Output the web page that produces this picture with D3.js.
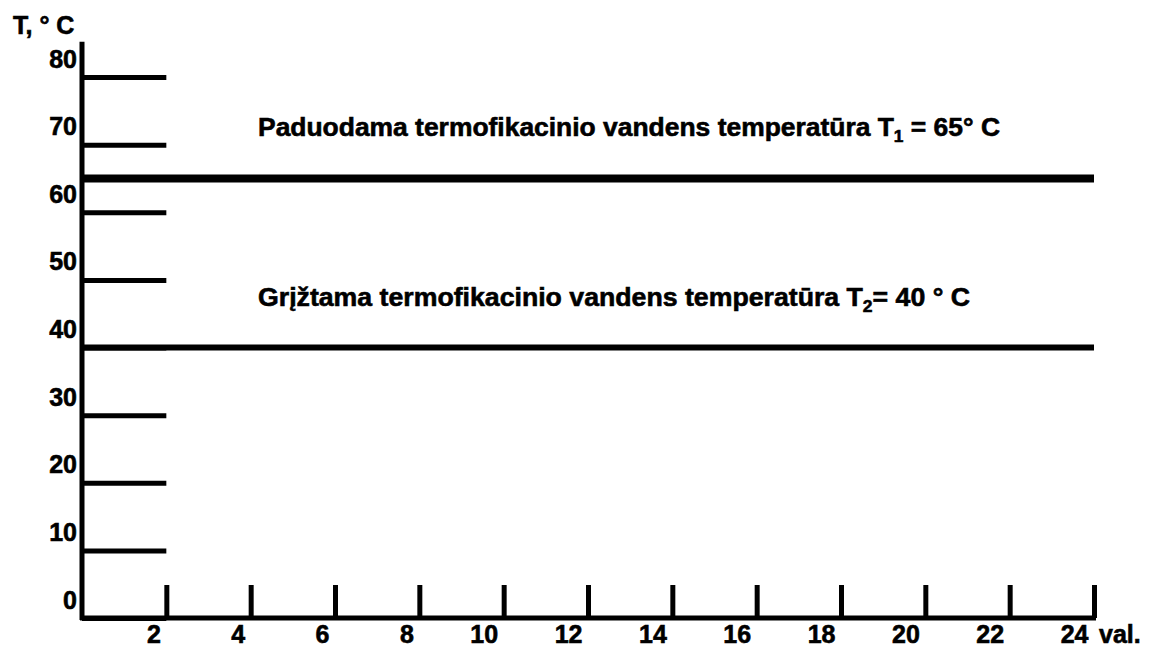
<!DOCTYPE html>
<html>
<head>
<meta charset="utf-8">
<script src="https://cdn.jsdelivr.net/npm/d3@7"></script>
<style>
  body { margin: 0; background: #fff; }
  text { font-family: "Liberation Sans", Arial, sans-serif; font-weight: bold; fill: #000; stroke: #000; stroke-width: 0.6px; }
</style>
</head>
<body>
<svg width="1156" height="649"></svg>
<script>
const width = 1156, height = 649;

// data
const yTicks = [0, 10, 20, 30, 40, 50, 60, 70, 80];
const xTicks = [2, 4, 6, 8, 10, 12, 14, 16, 18, 20, 22, 24];
const hours = [0, 24];
const lineNames = ["T1", "T2"];
const lineValues = [65, 40];
const lineLabels = [
    ["Paduodama termofikacinio vandens temperatūra T", "1", " = 65° C"],
    ["Grįžtama termofikacinio vandens temperatūra T", "2", "= 40 ° C"]
];
const yTitle = "T, ° C";
const xUnit = "val.";

const svg = d3.select("svg");

const x = d3.scaleLinear().domain([0, 24]).range([82, 1094]);
const y = d3.scaleLinear().domain([0, 80]).range([618, 77]);

// T lines
const lineWidths = [8, 6];
svg.append("g")
    .selectAll("line")
    .data(lineValues)
    .join("line")
        .attr("x1", x(hours[0]))
        .attr("x2", x(hours[1]))
        .attr("y1", d => y(d))
        .attr("y2", d => y(d))
        .attr("stroke", "#000")
        .attr("stroke-width", (d, i) => lineWidths[i]);

// labels over the lines
const labels = svg.append("g")
    .selectAll("text")
    .data(lineLabels)
    .join("text")
        .attr("x", 258)
        .attr("y", (d, i) => y(lineValues[i]) - 42)
        .attr("textLength", (d, i) => i == 0 ? 742 : 712)
        .attr("lengthAdjust", "spacingAndGlyphs")
        .style("font-size", "26px");
labels.append("tspan").text(d => d[0]);
labels.append("tspan").attr("dy", 6).style("font-size", "17px").text(d => d[1]);
labels.append("tspan").attr("dy", -6).text(d => d[2]);

// Y axis
const gy = svg.append("g")
    .attr("transform", `translate(${x(0)}, 0)`)
    .call(d3.axisLeft(y).tickValues(yTicks).tickSize(-(x(2) - x(0))).tickPadding(5));
gy.select(".domain").remove();
gy.selectAll(".tick line").attr("stroke", "#000").attr("stroke-width", 5);
gy.selectAll(".tick text")
    .attr("dy", -10)
    .style("font-size", "25px")
    .style("font-family", null);

// X axis
const gx = svg.append("g")
    .attr("transform", `translate(0, ${y(0)})`)
    .call(d3.axisBottom(x).tickValues(xTicks).tickSize(-33).tickPadding(0));
gx.select(".domain").remove();
gx.selectAll(".tick line").attr("stroke", "#000").attr("stroke-width", 5);
gx.selectAll(".tick text")
    .attr("x", -6)
    .attr("y", 25)
    .attr("dy", 0)
    .attr("text-anchor", "end")
    .style("font-size", "25px")
    .style("font-family", null);

// axis lines
svg.append("line")
    .attr("x1", x(0)).attr("x2", x(0))
    .attr("y1", y(0) + 2).attr("y2", y(85.2))
    .attr("stroke", "#000").attr("stroke-width", 5);
svg.append("line")
    .attr("x1", x(0) - 2).attr("x2", x(24) + 2)
    .attr("y1", y(0)).attr("y2", y(0))
    .attr("stroke", "#000").attr("stroke-width", 5);

// titles
svg.append("text")
    .attr("x", 13)
    .attr("y", 34)
    .style("font-size", "25px")
    .text(yTitle);

svg.append("text")
    .attr("x", x(24) + 5)
    .attr("y", y(0) + 25)
    .style("font-size", "25px")
    .text(xUnit);
</script>
</body>
</html>
